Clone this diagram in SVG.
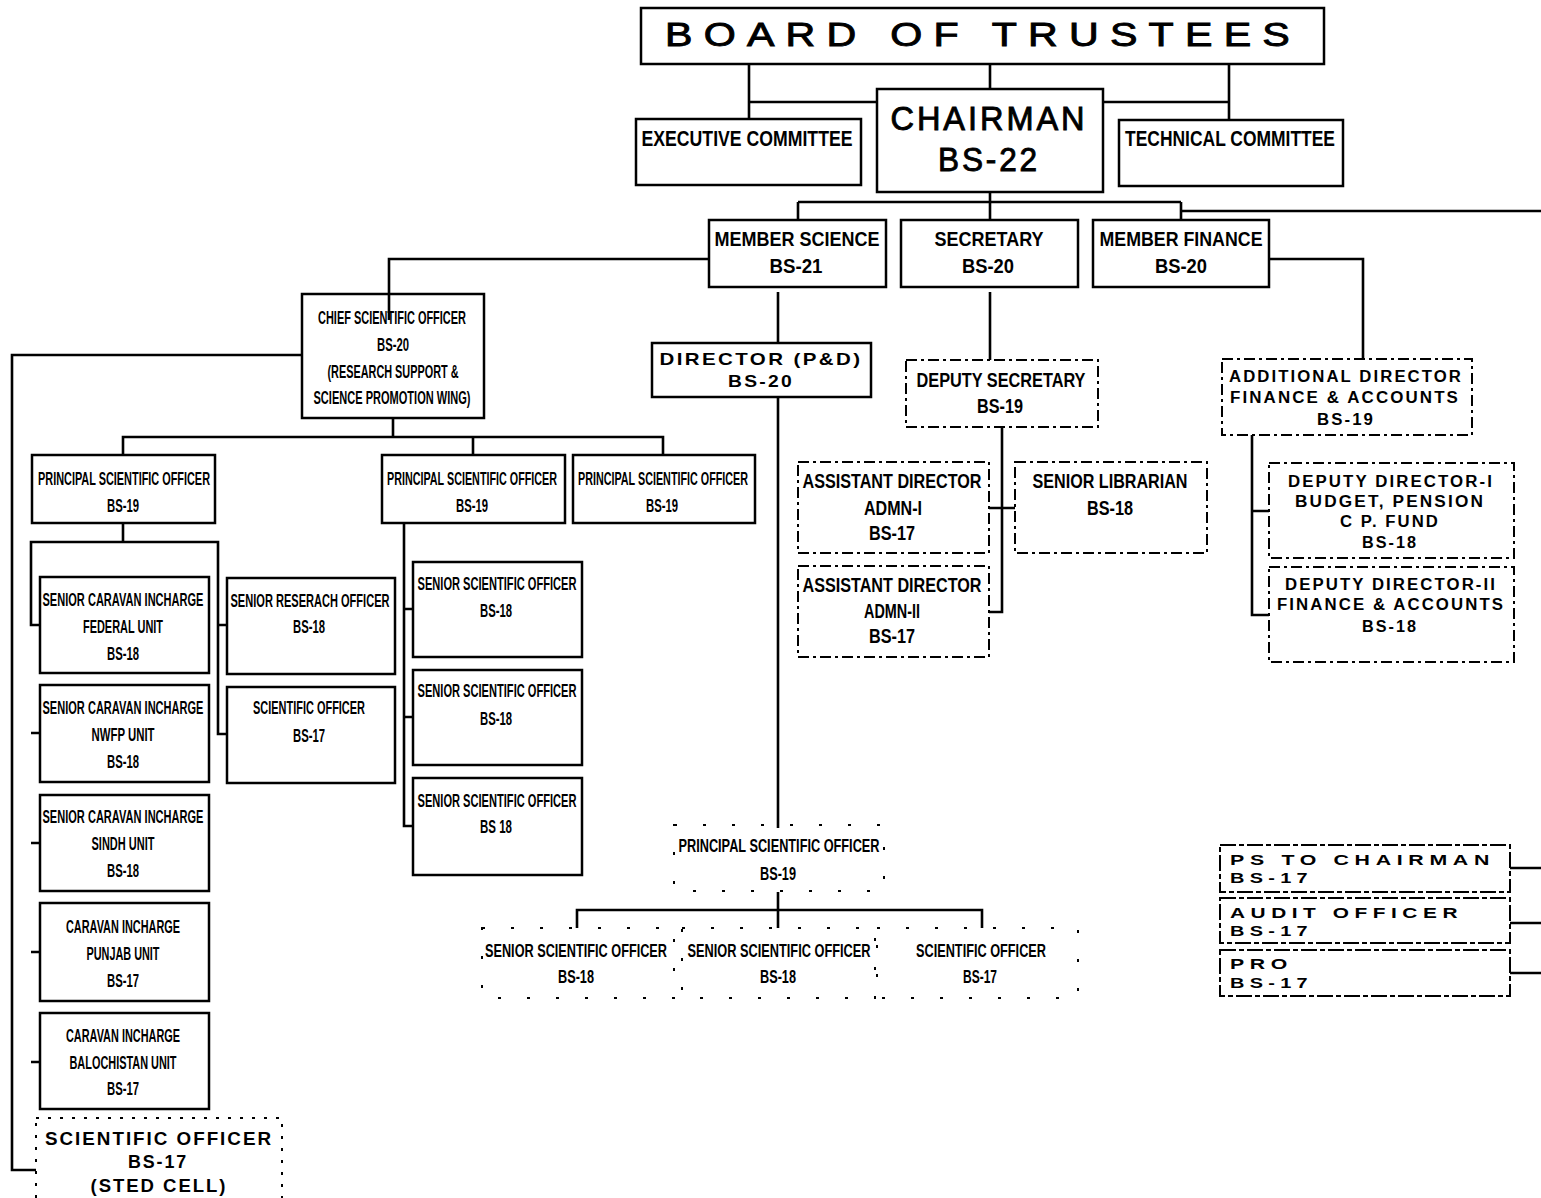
<svg xmlns="http://www.w3.org/2000/svg" width="1541" height="1198" viewBox="0 0 1541 1198">
<style>
.bx{fill:#fff;stroke:#000;stroke-width:2.5}
.ds{fill:#fff;stroke:#000;stroke-width:2;stroke-dasharray:11 4 3 4}
.dp{fill:none;stroke:#000;stroke-width:2;stroke-dasharray:3 26}
.dq{fill:#fff;stroke:#000;stroke-width:2;stroke-dasharray:16 3 5 3}
.ln{fill:none;stroke:#000;stroke-width:2.6}
.n{font-family:"Liberation Sans Narrow","Liberation Sans",Arial,sans-serif;font-weight:bold;text-anchor:middle;fill:#000}
.w{font-family:"Liberation Sans",Arial,sans-serif;font-weight:bold;text-anchor:middle;fill:#000;letter-spacing:2px}
.wl{font-family:"Liberation Sans",Arial,sans-serif;font-weight:bold;fill:#000;letter-spacing:4px}
.h{font-family:"Liberation Sans",Arial,sans-serif;font-weight:normal;text-anchor:middle;fill:#000;stroke:#000;stroke-width:0.9}
</style>
<rect width="1541" height="1198" fill="#fff"/>
<g id="connectors">
<path class="ln" d="M990 64V89M749 64V119M1229 64V120M749 102H877M1103 102H1229"/>
<path class="ln" d="M990 192V202M798 202H1181M798 202V220M990 202V220M1181 202V220M1181 211H1541"/>
<path class="ln" d="M709 259H389V320"/>
<path class="ln" d="M1269 259H1363V359"/>
<path class="ln" d="M778 292V343M778 397V828M778 892V928M577 928V910H982V928"/>
<path class="ln" d="M990 292V360"/>
<path class="ln" d="M1002 427V612H989M989 508H1015"/>
<path class="ln" d="M1252 435V615H1270M1252 511H1270"/>
<path class="ln" d="M302 355H12V1170H36"/>
<path class="ln" d="M393 418V437M123 455V437H663V455M473 437V455"/>
<path class="ln" d="M123 523V542M40 625H31V542H218V734H227M31 733H40M31 843H40M31 952H40M31 1062H40M218 625H227"/>
<path class="ln" d="M404 523V826H413M404 609H413M404 717H413"/>
<path class="ln" d="M1510 868H1541M1510 923H1541M1510 973H1541"/>
</g>
<g id="board"><rect class="bx" x="641" y="8" width="683" height="56"/><text class="h" x="983" y="46" font-size="33" letter-spacing="9" textLength="636" lengthAdjust="spacingAndGlyphs">BOARD OF TRUSTEES</text></g>
<g id="exec"><rect class="bx" x="636" y="119" width="225" height="66"/><text class="n" x="747" y="146" font-size="22" textLength="211" lengthAdjust="spacingAndGlyphs">EXECUTIVE COMMITTEE</text></g>
<g id="chairman"><rect class="bx" x="877" y="89" width="226" height="103"/><text class="h" x="989" y="130" font-size="33" letter-spacing="3" textLength="197" lengthAdjust="spacingAndGlyphs">CHAIRMAN</text><text class="h" x="989" y="171" font-size="33" letter-spacing="3" textLength="102" lengthAdjust="spacingAndGlyphs">BS-22</text></g>
<g id="technical"><rect class="bx" x="1119" y="120" width="224" height="66"/><text class="n" x="1230" y="146" font-size="22" textLength="210" lengthAdjust="spacingAndGlyphs">TECHNICAL COMMITTEE</text></g>
<g id="member-science"><rect class="bx" x="709" y="220" width="177" height="67"/><text class="n" x="797" y="246" font-size="20" textLength="165" lengthAdjust="spacingAndGlyphs">MEMBER SCIENCE</text><text class="n" x="796" y="273" font-size="20" textLength="53" lengthAdjust="spacingAndGlyphs">BS-21</text></g>
<g id="secretary"><rect class="bx" x="901" y="220" width="177" height="67"/><text class="n" x="989" y="246" font-size="20" textLength="109" lengthAdjust="spacingAndGlyphs">SECRETARY</text><text class="n" x="988" y="273" font-size="20" textLength="52" lengthAdjust="spacingAndGlyphs">BS-20</text></g>
<g id="member-finance"><rect class="bx" x="1093" y="220" width="176" height="67"/><text class="n" x="1181" y="246" font-size="20" textLength="163" lengthAdjust="spacingAndGlyphs">MEMBER FINANCE</text><text class="n" x="1181" y="273" font-size="20" textLength="52" lengthAdjust="spacingAndGlyphs">BS-20</text></g>
<g id="cso"><rect class="bx" x="302" y="294" width="182" height="124"/>
<text class="n" x="392" y="324" font-size="18" textLength="148" lengthAdjust="spacingAndGlyphs">CHIEF SCIENTIFIC OFFICER</text>
<text class="n" x="393" y="351" font-size="18" textLength="32" lengthAdjust="spacingAndGlyphs">BS-20</text>
<text class="n" x="393" y="378" font-size="18" textLength="131" lengthAdjust="spacingAndGlyphs">(RESEARCH SUPPORT &amp;</text>
<text class="n" x="392" y="404" font-size="18" textLength="157" lengthAdjust="spacingAndGlyphs">SCIENCE PROMOTION WING)</text></g>
<path class="ln" d="M389 294V320"/>
<g id="director"><rect class="bx" x="652" y="343" width="219" height="54"/><text class="w" x="761" y="365" font-size="17" textLength="203" lengthAdjust="spacingAndGlyphs">DIRECTOR (P&amp;D)</text><text class="w" x="761" y="387" font-size="17" textLength="66" lengthAdjust="spacingAndGlyphs">BS-20</text></g>
<g id="deputy-secretary"><rect class="ds" x="906" y="360" width="192" height="67"/><text class="n" x="1001" y="387" font-size="20" textLength="169" lengthAdjust="spacingAndGlyphs">DEPUTY SECRETARY</text><text class="n" x="1000" y="413" font-size="20" textLength="46" lengthAdjust="spacingAndGlyphs">BS-19</text></g>
<g id="add-director"><rect class="ds" x="1222" y="359" width="250" height="76"/><text class="w" x="1346" y="382" font-size="16" textLength="234" lengthAdjust="spacingAndGlyphs">ADDITIONAL DIRECTOR</text><text class="w" x="1345" y="403" font-size="16" textLength="230" lengthAdjust="spacingAndGlyphs">FINANCE &amp; ACCOUNTS</text><text class="w" x="1346" y="425" font-size="16" textLength="58" lengthAdjust="spacingAndGlyphs">BS-19</text></g>
<g id="ad-admn1"><rect class="ds" x="798" y="462" width="191" height="91"/><text class="n" x="892" y="488" font-size="20" textLength="179" lengthAdjust="spacingAndGlyphs">ASSISTANT DIRECTOR</text><text class="n" x="893" y="515" font-size="20" textLength="58" lengthAdjust="spacingAndGlyphs">ADMN-I</text><text class="n" x="892" y="540" font-size="20" textLength="46" lengthAdjust="spacingAndGlyphs">BS-17</text></g>
<g id="ad-admn2"><rect class="ds" x="798" y="566" width="191" height="91"/><text class="n" x="892" y="592" font-size="20" textLength="179" lengthAdjust="spacingAndGlyphs">ASSISTANT DIRECTOR</text><text class="n" x="892" y="618" font-size="20" textLength="56" lengthAdjust="spacingAndGlyphs">ADMN-II</text><text class="n" x="892" y="643" font-size="20" textLength="46" lengthAdjust="spacingAndGlyphs">BS-17</text></g>
<g id="senior-librarian"><rect class="ds" x="1015" y="462" width="192" height="91"/><text class="n" x="1110" y="488" font-size="20" textLength="155" lengthAdjust="spacingAndGlyphs">SENIOR LIBRARIAN</text><text class="n" x="1110" y="515" font-size="20" textLength="46" lengthAdjust="spacingAndGlyphs">BS-18</text></g>
<g id="dd1"><rect class="ds" x="1269" y="463" width="245" height="95"/><text class="w" x="1391" y="487" font-size="16" textLength="206" lengthAdjust="spacingAndGlyphs">DEPUTY DIRECTOR-I</text><text class="w" x="1390" y="507" font-size="16" textLength="190" lengthAdjust="spacingAndGlyphs">BUDGET, PENSION</text><text class="w" x="1390" y="527" font-size="16" textLength="100" lengthAdjust="spacingAndGlyphs">C P. FUND</text><text class="w" x="1390" y="548" font-size="16" textLength="56" lengthAdjust="spacingAndGlyphs">BS-18</text></g>
<g id="dd2"><rect class="ds" x="1269" y="567" width="245" height="95"/><text class="w" x="1391" y="590" font-size="16" textLength="212" lengthAdjust="spacingAndGlyphs">DEPUTY DIRECTOR-II</text><text class="w" x="1391" y="610" font-size="16" textLength="228" lengthAdjust="spacingAndGlyphs">FINANCE &amp; ACCOUNTS</text><text class="w" x="1390" y="632" font-size="16" textLength="56" lengthAdjust="spacingAndGlyphs">BS-18</text></g>
<g id="pso1"><rect class="bx" x="32" y="455" width="183" height="68"/><text class="n" x="124" y="485" font-size="19" textLength="172" lengthAdjust="spacingAndGlyphs">PRINCIPAL SCIENTIFIC OFFICER</text><text class="n" x="123" y="512" font-size="19" textLength="32" lengthAdjust="spacingAndGlyphs">BS-19</text></g>
<g id="pso2"><rect class="bx" x="382" y="455" width="183" height="68"/><text class="n" x="472" y="485" font-size="19" textLength="170" lengthAdjust="spacingAndGlyphs">PRINCIPAL SCIENTIFIC OFFICER</text><text class="n" x="472" y="512" font-size="19" textLength="32" lengthAdjust="spacingAndGlyphs">BS-19</text></g>
<g id="pso3"><rect class="bx" x="573" y="455" width="182" height="68"/><text class="n" x="663" y="485" font-size="19" textLength="170" lengthAdjust="spacingAndGlyphs">PRINCIPAL SCIENTIFIC OFFICER</text><text class="n" x="662" y="512" font-size="19" textLength="32" lengthAdjust="spacingAndGlyphs">BS-19</text></g>
<g id="caravan-federal"><rect class="bx" x="40" y="577" width="169" height="96"/><text class="n" x="123" y="606" font-size="18" textLength="161" lengthAdjust="spacingAndGlyphs">SENIOR CARAVAN INCHARGE</text><text class="n" x="123" y="633" font-size="18" textLength="80" lengthAdjust="spacingAndGlyphs">FEDERAL UNIT</text><text class="n" x="123" y="660" font-size="18" textLength="32" lengthAdjust="spacingAndGlyphs">BS-18</text></g>
<g id="caravan-nwfp"><rect class="bx" x="40" y="685" width="169" height="97"/><text class="n" x="123" y="714" font-size="18" textLength="161" lengthAdjust="spacingAndGlyphs">SENIOR CARAVAN INCHARGE</text><text class="n" x="123" y="741" font-size="18" textLength="63" lengthAdjust="spacingAndGlyphs">NWFP UNIT</text><text class="n" x="123" y="768" font-size="18" textLength="32" lengthAdjust="spacingAndGlyphs">BS-18</text></g>
<g id="caravan-sindh"><rect class="bx" x="40" y="795" width="169" height="96"/><text class="n" x="123" y="823" font-size="18" textLength="161" lengthAdjust="spacingAndGlyphs">SENIOR CARAVAN INCHARGE</text><text class="n" x="123" y="850" font-size="18" textLength="63" lengthAdjust="spacingAndGlyphs">SINDH UNIT</text><text class="n" x="123" y="877" font-size="18" textLength="32" lengthAdjust="spacingAndGlyphs">BS-18</text></g>
<g id="caravan-punjab"><rect class="bx" x="40" y="903" width="169" height="98"/><text class="n" x="123" y="933" font-size="18" textLength="114" lengthAdjust="spacingAndGlyphs">CARAVAN INCHARGE</text><text class="n" x="123" y="960" font-size="18" textLength="73" lengthAdjust="spacingAndGlyphs">PUNJAB UNIT</text><text class="n" x="123" y="987" font-size="18" textLength="32" lengthAdjust="spacingAndGlyphs">BS-17</text></g>
<g id="caravan-balochistan"><rect class="bx" x="40" y="1013" width="169" height="96"/><text class="n" x="123" y="1042" font-size="18" textLength="114" lengthAdjust="spacingAndGlyphs">CARAVAN INCHARGE</text><text class="n" x="123" y="1069" font-size="18" textLength="107" lengthAdjust="spacingAndGlyphs">BALOCHISTAN UNIT</text><text class="n" x="123" y="1095" font-size="18" textLength="32" lengthAdjust="spacingAndGlyphs">BS-17</text></g>
<g id="sro"><rect class="bx" x="227" y="578" width="168" height="96"/><text class="n" x="310" y="607" font-size="18" textLength="159" lengthAdjust="spacingAndGlyphs">SENIOR RESERACH OFFICER</text><text class="n" x="309" y="633" font-size="18" textLength="32" lengthAdjust="spacingAndGlyphs">BS-18</text></g>
<g id="so-left"><rect class="bx" x="227" y="687" width="168" height="96"/><text class="n" x="309" y="714" font-size="18" textLength="112" lengthAdjust="spacingAndGlyphs">SCIENTIFIC OFFICER</text><text class="n" x="309" y="742" font-size="18" textLength="32" lengthAdjust="spacingAndGlyphs">BS-17</text></g>
<g id="sso1"><rect class="bx" x="413" y="562" width="169" height="95"/><text class="n" x="497" y="590" font-size="18" textLength="159" lengthAdjust="spacingAndGlyphs">SENIOR SCIENTIFIC OFFICER</text><text class="n" x="496" y="617" font-size="18" textLength="32" lengthAdjust="spacingAndGlyphs">BS-18</text></g>
<g id="sso2"><rect class="bx" x="413" y="670" width="169" height="95"/><text class="n" x="497" y="697" font-size="18" textLength="159" lengthAdjust="spacingAndGlyphs">SENIOR SCIENTIFIC OFFICER</text><text class="n" x="496" y="725" font-size="18" textLength="32" lengthAdjust="spacingAndGlyphs">BS-18</text></g>
<g id="sso3"><rect class="bx" x="413" y="778" width="169" height="97"/><text class="n" x="497" y="807" font-size="18" textLength="159" lengthAdjust="spacingAndGlyphs">SENIOR SCIENTIFIC OFFICER</text><text class="n" x="496" y="833" font-size="18" textLength="32" lengthAdjust="spacingAndGlyphs">BS 18</text></g>
<g id="pso-pd"><rect class="dp" x="674" y="825" width="210" height="66"/><text class="n" x="779" y="852" font-size="19" textLength="201" lengthAdjust="spacingAndGlyphs">PRINCIPAL SCIENTIFIC OFFICER</text><text class="n" x="778" y="880" font-size="19" textLength="36" lengthAdjust="spacingAndGlyphs">BS-19</text></g>
<g id="sso-pd1"><rect class="dp" x="482" y="928" width="192" height="70"/><text class="n" x="576" y="957" font-size="19" textLength="182" lengthAdjust="spacingAndGlyphs">SENIOR SCIENTIFIC OFFICER</text><text class="n" x="576" y="983" font-size="19" textLength="36" lengthAdjust="spacingAndGlyphs">BS-18</text></g>
<g id="sso-pd2"><rect class="dp" x="682" y="928" width="193" height="70"/><text class="n" x="779" y="957" font-size="19" textLength="183" lengthAdjust="spacingAndGlyphs">SENIOR SCIENTIFIC OFFICER</text><text class="n" x="778" y="983" font-size="19" textLength="36" lengthAdjust="spacingAndGlyphs">BS-18</text></g>
<g id="so-pd"><rect class="dp" x="877" y="928" width="201" height="70"/><text class="n" x="981" y="957" font-size="19" textLength="130" lengthAdjust="spacingAndGlyphs">SCIENTIFIC OFFICER</text><text class="n" x="980" y="983" font-size="19" textLength="34" lengthAdjust="spacingAndGlyphs">BS-17</text></g>
<g id="sted"><rect class="ds" x="36" y="1118" width="246" height="100" style="stroke-dasharray:3 9"/><text class="w" x="159" y="1145" font-size="19" textLength="228" lengthAdjust="spacingAndGlyphs">SCIENTIFIC OFFICER</text><text class="w" x="158" y="1168" font-size="19" textLength="60" lengthAdjust="spacingAndGlyphs">BS-17</text><text class="w" x="159" y="1192" font-size="19" textLength="137" lengthAdjust="spacingAndGlyphs">(STED CELL)</text></g>
<g id="ps-chairman"><rect class="dq" x="1220" y="845" width="290" height="47"/><text class="wl" x="1230" y="865" font-size="15" textLength="265" lengthAdjust="spacingAndGlyphs">PS TO CHAIRMAN</text><text class="wl" x="1230" y="883" font-size="15" textLength="83" lengthAdjust="spacingAndGlyphs">BS-17</text></g>
<g id="audit"><rect class="dq" x="1220" y="898" width="290" height="45"/><text class="wl" x="1230" y="918" font-size="15" textLength="233" lengthAdjust="spacingAndGlyphs">AUDIT OFFICER</text><text class="wl" x="1230" y="936" font-size="15" textLength="83" lengthAdjust="spacingAndGlyphs">BS-17</text></g>
<g id="pro"><rect class="dq" x="1220" y="950" width="290" height="46"/><text class="wl" x="1230" y="969" font-size="15" textLength="63" lengthAdjust="spacingAndGlyphs">PRO</text><text class="wl" x="1230" y="988" font-size="15" textLength="83" lengthAdjust="spacingAndGlyphs">BS-17</text></g>
</svg>
